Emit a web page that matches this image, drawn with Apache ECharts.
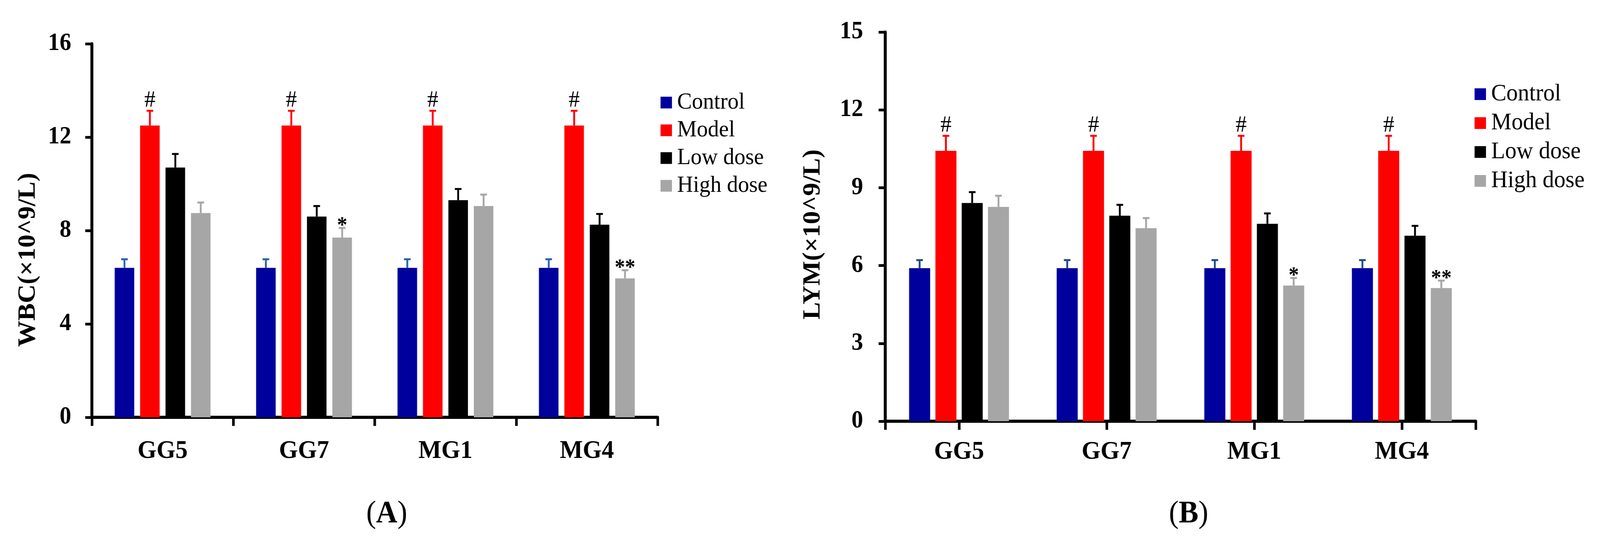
<!DOCTYPE html>
<html>
<head>
<meta charset="utf-8">
<script src="https://cdn.jsdelivr.net/npm/echarts@6/dist/echarts.min.js"></script>
<style>
html,body{margin:0;padding:0;background:#fff;overflow:hidden;}
#chart{width:4336px;height:1405px;transform-origin:0 0;}
</style>
</head>
<body>
<div id="chart"></div>
<script>
// ---------- data ----------
const categories = ['GG5', 'GG7', 'MG1', 'MG4'];
const groupNames = ['Control', 'Model', 'Low dose', 'High dose'];

// WBC (×10^9/L)
const wbcControl    = [6.4, 6.4, 6.4, 6.4];
const wbcControlErr = [0.37, 0.37, 0.37, 0.37];
const wbcModel      = [12.5, 12.5, 12.5, 12.5];
const wbcModelErr   = [0.63, 0.63, 0.63, 0.63];
const wbcLow        = [10.7, 8.6, 9.3, 8.25];
const wbcLowErr     = [0.58, 0.45, 0.48, 0.46];
const wbcHigh       = [8.75, 7.7, 9.05, 5.95];
const wbcHighErr    = [0.45, 0.41, 0.49, 0.35];
const wbcModelMarks = ['#', '#', '#', '#'];
const wbcHighMarks  = ['', '*', '', '**'];

// LYM (×10^9/L)
const lymControl    = [5.9, 5.9, 5.9, 5.9];
const lymControlErr = [0.31, 0.31, 0.31, 0.31];
const lymModel      = [10.42, 10.42, 10.42, 10.42];
const lymModelErr   = [0.58, 0.58, 0.58, 0.58];
const lymLow        = [8.41, 7.92, 7.61, 7.15];
const lymLowErr     = [0.42, 0.42, 0.40, 0.38];
const lymHigh       = [8.26, 7.44, 5.23, 5.13];
const lymHighErr    = [0.43, 0.39, 0.29, 0.29];
const lymModelMarks = ['#', '#', '#', '#'];
const lymHighMarks  = ['', '', '*', '**'];

const wbcTicks = {min: 0, max: 16, interval: 4};
const lymTicks = {min: 0, max: 15, interval: 3};

// ---------- fit the 4336-wide drawing into the actual viewport ----------
const DESIGN_W = 4336;
const el = document.getElementById('chart');
const sx = Math.min(1, (window.innerWidth || DESIGN_W) / DESIGN_W);
if (sx < 1) el.style.transform = 'scaleX(' + sx + ')';

// ---------- styling ----------
const FONT = 'Liberation Serif';
const barColors = ['#00009c', '#ff0000', '#000000', '#a6a6a6'];
const errColorsA = ['#2a64a8', '#ff0000', '#000000', '#a6a6a6'];
const errColorsB = ['#1f4a86', '#ff0000', '#000000', '#a6a6a6'];

const layout = [
  {barWidth: 53, gapPct: 0.30},
  {barWidth: 57, gapPct: 0.25}
];

function barSeries(ax, name, vals, color) {
  const L = layout[ax];
  return {
    type: 'bar', name: name, xAxisIndex: ax, yAxisIndex: ax,
    data: vals, barWidth: L.barWidth, barGap: (L.gapPct * 100) + '%',
    itemStyle: {color: color}, silent: true, z: 2
  };
}

function errSeries(ax, k, vals, errs, marks, color) {
  const L = layout[ax];
  const pitch = L.barWidth * (1 + L.gapPct);
  return {
    type: 'custom', xAxisIndex: ax, yAxisIndex: ax, silent: true, z: 3,
    data: vals.map((v, i) => [i, v, errs[i]]),
    encode: {x: 0, y: 1},
    renderItem: function (params, api) {
      const i = api.value(0), v = api.value(1), e = api.value(2);
      const base = api.coord([i, v]);
      const top = api.coord([i, v + e]);
      const x = base[0] + (k - 1.5) * pitch;
      const children = [
        {type: 'line', shape: {x1: x, y1: base[1], x2: x, y2: top[1]}, style: {stroke: color, lineWidth: 5}},
        {type: 'line', shape: {x1: x - 9, y1: top[1], x2: x + 9, y2: top[1]}, style: {stroke: color, lineWidth: 5}}
      ];
      const m = marks ? marks[params.dataIndex] : '';
      if (m) {
        const isHash = m === '#';
        children.push({
          type: 'text', x: x, y: top[1] + (isHash ? 4 : 24),
          style: {
            text: m, align: 'center', verticalAlign: 'bottom',
            fontSize: isHash ? 60 : 56, fontWeight: isHash ? 'normal' : 'bold',
            fontFamily: FONT, fill: '#000'
          }
        });
      }
      return {type: 'group', children: children};
    }
  };
}

function xAxisCfg(grid, alignWithLabel, margin) {
  return {
    gridIndex: grid, type: 'category', data: categories, position: 'bottom',
    axisLine: {lineStyle: {color: '#000', width: 8}},
    axisTick: {show: true, alignWithLabel: alignWithLabel, length: 22, lineStyle: {color: '#000', width: 7}},
    axisLabel: {margin: margin, fontSize: 66, fontWeight: 'bold', fontFamily: FONT, color: '#000'},
    splitLine: {show: false}
  };
}

// overlay axis on panel B: only the two end ticks of the category band axis
const endTickAxis = {
  gridIndex: 1, type: 'category', data: categories, position: 'bottom',
  axisLine: {show: false},
  axisTick: {show: true, interval: function (i) { return i === 0; }, length: 22, lineStyle: {color: '#000', width: 7}},
  axisLabel: {show: false},
  splitLine: {show: false}
};

function yAxisCfg(grid, ticks, name, nameGap, shiftPad, labelMargin) {
  return {
    gridIndex: grid, type: 'value', min: ticks.min, max: ticks.max, interval: ticks.interval,
    name: name, nameLocation: 'middle', nameGap: nameGap,
    nameTextStyle: {fontSize: 67, fontWeight: 'bold', fontFamily: FONT, color: '#000', padding: [0, shiftPad, 0, 0]},
    axisLine: {show: true, lineStyle: {color: '#000', width: 8}},
    axisTick: {show: true, length: 18, lineStyle: {color: '#000', width: 7}},
    axisLabel: {margin: labelMargin, fontSize: 63, fontWeight: 'bold', fontFamily: FONT, color: '#000'},
    splitLine: {show: false}
  };
}

function legendCfg(left, top, rowH, fontSize) {
  return {
    orient: 'vertical', left: left, top: top, icon: 'rect',
    itemWidth: 31, itemHeight: 30, itemGap: 0, selectedMode: false,
    data: groupNames,
    textStyle: {fontSize: fontSize, fontFamily: FONT, color: '#000', lineHeight: rowH, padding: [0, 0, 0, 9]}
  };
}

const option = {
  animation: false,
  backgroundColor: '#ffffff',
  grid: [
    {left: 249, top: 112, width: 1533, height: 956},
    {left: 2399, top: 82, width: 1600, height: 996}
  ],
  xAxis: [xAxisCfg(0, false, 54), xAxisCfg(1, true, 46), endTickAxis],
  yAxis: [
    yAxisCfg(0, wbcTicks, 'WBC(×10^9/L)', 139, 150, 56),
    yAxisCfg(1, lymTicks, 'LYM(×10^9/L)', 162, 40, 60)
  ],
  legend: [legendCfg(1785, 222, 71, 60), legendCfg(3991, 199, 74, 62)],
  graphic: [
    {type: 'text', x: 1048, y: 1316, style: {
      text: '{p|(}{b|A}{p|)}', align: 'center', verticalAlign: 'middle', fill: '#000',
      rich: {p: {fontSize: 80, fontFamily: FONT, fontWeight: 'normal'}, b: {fontSize: 80, fontFamily: FONT, fontWeight: 'bold'}}
    }},
    {type: 'text', x: 3221, y: 1316, style: {
      text: '{p|(}{b|B}{p|)}', align: 'center', verticalAlign: 'middle', fill: '#000',
      rich: {p: {fontSize: 80, fontFamily: FONT, fontWeight: 'normal'}, b: {fontSize: 80, fontFamily: FONT, fontWeight: 'bold'}}
    }}
  ],
  series: [
    barSeries(0, 'Control', wbcControl, barColors[0]),
    barSeries(0, 'Model', wbcModel, barColors[1]),
    barSeries(0, 'Low dose', wbcLow, barColors[2]),
    barSeries(0, 'High dose', wbcHigh, barColors[3]),
    errSeries(0, 0, wbcControl, wbcControlErr, null, errColorsA[0]),
    errSeries(0, 1, wbcModel, wbcModelErr, wbcModelMarks, errColorsA[1]),
    errSeries(0, 2, wbcLow, wbcLowErr, null, errColorsA[2]),
    errSeries(0, 3, wbcHigh, wbcHighErr, wbcHighMarks, errColorsA[3]),

    barSeries(1, 'Control', lymControl, barColors[0]),
    barSeries(1, 'Model', lymModel, barColors[1]),
    barSeries(1, 'Low dose', lymLow, barColors[2]),
    barSeries(1, 'High dose', lymHigh, barColors[3]),
    errSeries(1, 0, lymControl, lymControlErr, null, errColorsB[0]),
    errSeries(1, 1, lymModel, lymModelErr, lymModelMarks, errColorsB[1]),
    errSeries(1, 2, lymLow, lymLowErr, null, errColorsB[2]),
    errSeries(1, 3, lymHigh, lymHighErr, lymHighMarks, errColorsB[3])
  ]
};

const chart = echarts.init(el, null, {renderer: 'canvas', width: DESIGN_W, height: 1405});
chart.setOption(option);
</script>
</body>
</html>
